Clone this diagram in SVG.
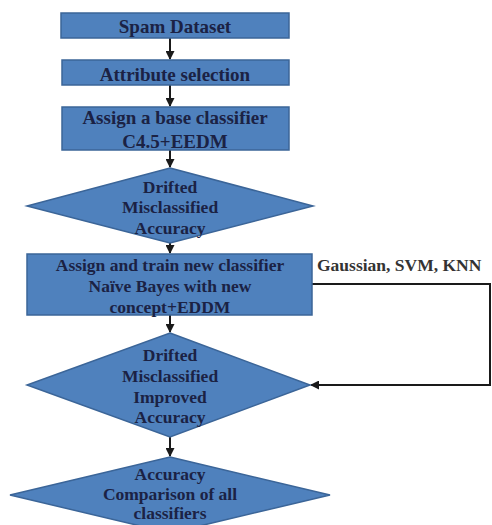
<svg xmlns="http://www.w3.org/2000/svg" width="492" height="525" viewBox="0 0 492 525">
<style>
.n{fill:#4f81bd;stroke:#3b6598;stroke-width:1.5}
.t{font-family:"Liberation Serif",serif;font-weight:bold;font-size:17.5px;fill:#1b2244;text-anchor:middle}
.b{font-size:19px}
.c{stroke:#1a1a1a;stroke-width:2;fill:none}
</style>
<defs>
<marker id="ah" markerWidth="9" markerHeight="9" refX="8" refY="4.5" orient="auto" markerUnits="userSpaceOnUse">
<path d="M0,0 L9,4.5 L0,9 z" fill="#1a1a1a"/>
</marker>
</defs>
<rect width="492" height="525" fill="#fff"/>
<g id="connectors">
<line class="c" x1="170" y1="38" x2="170" y2="59" marker-end="url(#ah)"/>
<line class="c" x1="170" y1="85" x2="170" y2="106" marker-end="url(#ah)"/>
<line class="c" x1="170" y1="150" x2="170" y2="167" marker-end="url(#ah)"/>
<line class="c" x1="170" y1="243" x2="170" y2="253" marker-end="url(#ah)"/>
<line class="c" x1="170" y1="315" x2="170" y2="332" marker-end="url(#ah)"/>
<line class="c" x1="170" y1="437" x2="170" y2="456" marker-end="url(#ah)"/>
<polyline class="c" points="312,284 490,284 490,385 311,385" marker-end="url(#ah)"/>
<text x="317" y="271" style="font-family:'Liberation Serif',serif;font-weight:bold;font-size:17.5px;fill:#333">Gaussian, SVM, KNN</text>
</g>
<g id="n1"><rect class="n" x="61" y="13" width="228" height="25"/><text class="t b" x="175" y="33">Spam Dataset</text></g>
<g id="n2"><rect class="n" x="62" y="60" width="227" height="25"/><text class="t b" x="175" y="81">Attribute selection</text></g>
<g id="n3"><rect class="n" x="62" y="107" width="227" height="43"/><text class="t b" x="175" y="124">Assign a base classifier</text><text class="t b" x="175" y="148">C4.5+EEDM</text></g>
<g id="n4"><polygon class="n" points="170,168 313,206 170,243 27,206"/><text class="t" x="170" y="193">Drifted</text><text class="t" x="170" y="213">Misclassified</text><text class="t" x="170" y="234">Accuracy</text></g>
<g id="n5"><rect class="n" x="27" y="254" width="285" height="61"/><text class="t" x="170" y="271">Assign and train new classifier</text><text class="t" x="170" y="292">Naïve Bayes with new</text><text class="t" x="170" y="313">concept+EDDM</text></g>
<g id="n6"><polygon class="n" points="170,333 310,385 170,437 27,385"/><text class="t" x="170" y="361">Drifted</text><text class="t" x="170" y="382">Misclassified</text><text class="t" x="170" y="403">Improved</text><text class="t" x="170" y="423">Accuracy</text></g>
<g id="n7"><polygon class="n" points="170,457 330,495 170,533 10,495"/><text class="t" x="170" y="480">Accuracy</text><text class="t" x="170" y="500">Comparison of all</text><text class="t" x="170" y="519">classifiers</text></g>
</svg>
